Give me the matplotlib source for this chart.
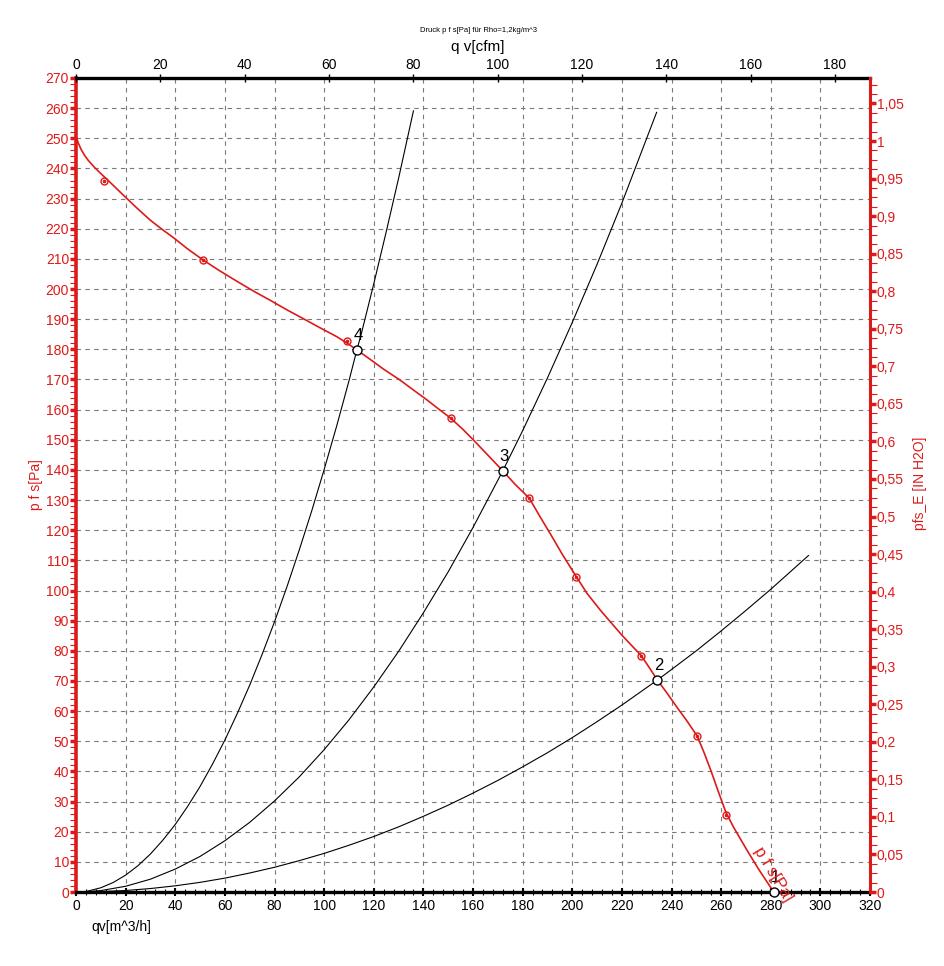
import matplotlib

matplotlib.use("Agg")
import matplotlib.pyplot as plt
from matplotlib.ticker import MultipleLocator, FuncFormatter

plt.rcParams["font.family"] = ["Liberation Sans", "DejaVu Sans"]

RED = "#dd1a1a"
PA_PER_INH2O = 249.089
M3H_PER_CFM = 1.69901

# fan curve p f s [Pa] over qv [m^3/h]
fan_q = [0, 1, 2, 3.5, 5, 7.5, 10, 14, 18, 24.5, 30, 35, 39.2, 45, 51.3, 58, 65,
         72, 78.2, 85, 92, 98, 105.1, 109, 113.2, 118, 124, 130.6, 136, 141, 146,
         151.1, 156, 160.2, 166, 172, 177, 182.7, 187, 191.1, 196, 201.7, 206,
         211.3, 216, 220, 224, 227.8, 231, 234.3, 238, 242, 246, 250.3, 253, 256,
         259, 261.9, 265, 270.4, 275, 281.2]
fan_p = [250.7, 248.3, 246.4, 244.3, 242.6, 240.3, 238.3, 235.2, 232.0, 226.9,
         222.8, 219.6, 217.1, 213.3, 209.6, 206.0, 202.5, 199.1, 196.3, 193.1,
         190.0, 187.3, 184.2, 182.2, 179.8, 177.0, 173.4, 169.8, 166.5, 163.5,
         160.3, 157.1, 153.4, 149.9, 144.9, 139.7, 135.2, 130.6, 124.5, 118.9,
         112.0, 104.5, 99.0, 93.5, 89.0, 85.2, 81.7, 78.4, 74.5, 70.3, 66.2, 61.5,
         57.0, 51.8, 46.5, 40.0, 33.0, 26.5, 21.5, 13.9, 7.7, 0]

# measured points on the fan curve
meas_q = [11.4, 51.3, 109.1, 151.1, 182.7, 201.7, 227.8, 250.3, 261.9]
meas_p = [235.9, 209.6, 182.8, 157.1, 130.6, 104.5, 78.4, 51.8, 25.5]

# system curves
sys4_q = [3, 5, 10, 15, 20, 25, 30, 35, 40, 45, 50, 55, 60, 65, 70, 75, 80, 85,
          90, 95, 100, 105, 110, 113.2, 115, 120, 125, 130, 136]
sys4_p = [0, 0.35, 1.4, 3.15, 5.6, 8.75, 12.6, 17.2, 22.4, 28.4, 35.0, 42.4, 50.4,
          59.2, 68.6, 78.8, 89.6, 101.2, 113.5, 126.4, 140.1, 154.4, 169.5, 179.8,
          185.2, 201.7, 218.9, 236.7, 259.1]
sys3_q = [3, 10, 20, 30, 40, 50, 60, 70, 80, 90, 100, 110, 120, 130, 140, 150,
          160, 172, 180, 190, 200, 210, 220, 234]
sys3_p = [0, 0.47, 1.9, 4.25, 7.6, 11.8, 17.0, 23.1, 30.2, 38.2, 47.2, 57.1, 68.0,
          79.8, 92.6, 106.2, 120.9, 139.7, 153.0, 170.5, 188.9, 208.2, 228.5, 258.6]
sys2_q = [3, 10, 20, 30, 40, 50, 60, 70, 80, 90, 100, 110, 120, 130, 140, 150,
          160, 170, 180, 190, 200, 210, 220, 234.3, 240, 250, 260, 270, 280, 295.2]
sys2_p = [0, 0.13, 0.5, 1.15, 2.05, 3.2, 4.6, 6.3, 8.2, 10.4, 12.8, 15.5, 18.4,
          21.6, 25.1, 28.8, 32.8, 37.0, 41.5, 46.2, 51.2, 56.5, 62.0, 70.3, 73.8,
          80.0, 86.6, 93.4, 100.4, 111.6]

# operating points
op_labels = ["1", "2", "3", "4"]
op_q = [281.2, 234.3, 172, 113.2]
op_p = [0, 70.3, 139.7, 179.8]

Q_MAX = 320
P_MAX = 270

fig = plt.figure(figsize=(9.44, 9.66), dpi=100)
ax = fig.add_axes([76 / 944, 1 - 892 / 966, 794 / 944, 814 / 966])

ax.set_xlim(0, Q_MAX)
ax.set_ylim(0, P_MAX)

for q, p in [(sys4_q, sys4_p), (sys3_q, sys3_p), (sys2_q, sys2_p)]:
    ax.plot(q, p, color="black", lw=0.8, zorder=3)

ax.plot(fan_q, fan_p, color=RED, lw=1.2, zorder=4)
ax.plot(meas_q, meas_p, ls="none", marker="o", ms=5, mfc="none", mec=RED,
        mew=1.0, zorder=5)
ax.plot(meas_q, meas_p, ls="none", marker="o", ms=1.6, mfc=RED, mec=RED, zorder=5)

ax.plot(op_q, op_p, ls="none", marker="o", ms=6.5, mfc="white", mec="black",
        mew=1.0, zorder=6, clip_on=False)
for lab, q, p in zip(op_labels, op_q, op_p):
    ax.annotate(lab, (q, p), xytext=(1, 5), textcoords="offset points",
                ha="center", va="bottom", fontsize=12, zorder=7)

ax.text(281, 6, "p f s[Pa]", color=RED, fontsize=12, rotation=-59,
        ha="center", va="center", rotation_mode="anchor", zorder=7)

# grid and ticks
ax.xaxis.set_major_locator(MultipleLocator(20))
ax.xaxis.set_minor_locator(MultipleLocator(4))
ax.yaxis.set_major_locator(MultipleLocator(10))
ax.yaxis.set_minor_locator(MultipleLocator(2))
ax.grid(True, which="major", ls=(0, (4, 4)), color="#7a7a7a", lw=0.8)
ax.set_axisbelow(True)

ax.tick_params(axis="x", which="major", direction="inout", length=6, width=1.5,
               labelsize=10, colors="black", pad=2)
ax.tick_params(axis="x", which="minor", direction="inout", length=5, width=0.8)
ax.tick_params(axis="y", which="major", direction="out", length=4, width=2.5,
               labelsize=10, colors=RED, pad=1)
ax.tick_params(axis="y", which="minor", direction="out", length=4, width=0.8,
               colors=RED)

ax.spines["bottom"].set_linewidth(2.4)
ax.spines["top"].set_visible(False)
ax.spines["right"].set_visible(False)
ax.spines["left"].set_color(RED)
ax.spines["left"].set_linewidth(2.6)

# top axis in cfm
top = ax.twiny()
top.set_xlim(0, Q_MAX / M3H_PER_CFM)
top.xaxis.set_major_locator(MultipleLocator(20))
top.tick_params(which="major", direction="inout", length=6, width=1.0,
                labelsize=10, pad=1)
for side in ("bottom", "left", "right"):
    top.spines[side].set_visible(False)
top.spines["top"].set_linewidth(2.4)

# right axis in inch H2O
right = ax.twinx()
right.set_ylim(0, P_MAX / PA_PER_INH2O)
right.yaxis.set_major_locator(MultipleLocator(0.05))
right.yaxis.set_minor_locator(MultipleLocator(0.0125))
right.yaxis.set_major_formatter(
    FuncFormatter(lambda v, pos: f"{round(v, 3):g}".replace(".", ",")))
right.tick_params(which="major", direction="out", length=4, width=2.5,
                  labelsize=10, colors=RED, pad=1)
right.tick_params(which="minor", direction="out", length=5, width=0.8, colors=RED)
for side in ("bottom", "left", "top"):
    right.spines[side].set_visible(False)
right.spines["right"].set_color(RED)
right.spines["right"].set_linewidth(2.2)

ax.set_xlabel("qv[m^3/h]", fontsize=10)
ax.xaxis.set_label_coords(0.057, -0.034)

fig.text(478 / 944, 1 - 47 / 966, "q v[cfm]", fontsize=11,
         ha="center", va="center")
fig.text(36 / 944, 1 - 485 / 966, "p f s[Pa]", color=RED, fontsize=10,
         rotation=90, ha="center", va="center")
fig.text(920 / 944, 1 - 483 / 966, "pfs_E [IN H2O]", color=RED, fontsize=10,
         rotation=90, ha="center", va="center")
fig.text(478 / 944, 1 - 30 / 966, "Druck p f s[Pa] für Rho=1,2kg/m^3",
         fontsize=5.5, ha="center", va="center")

fig.savefig("out.png", dpi=100)
